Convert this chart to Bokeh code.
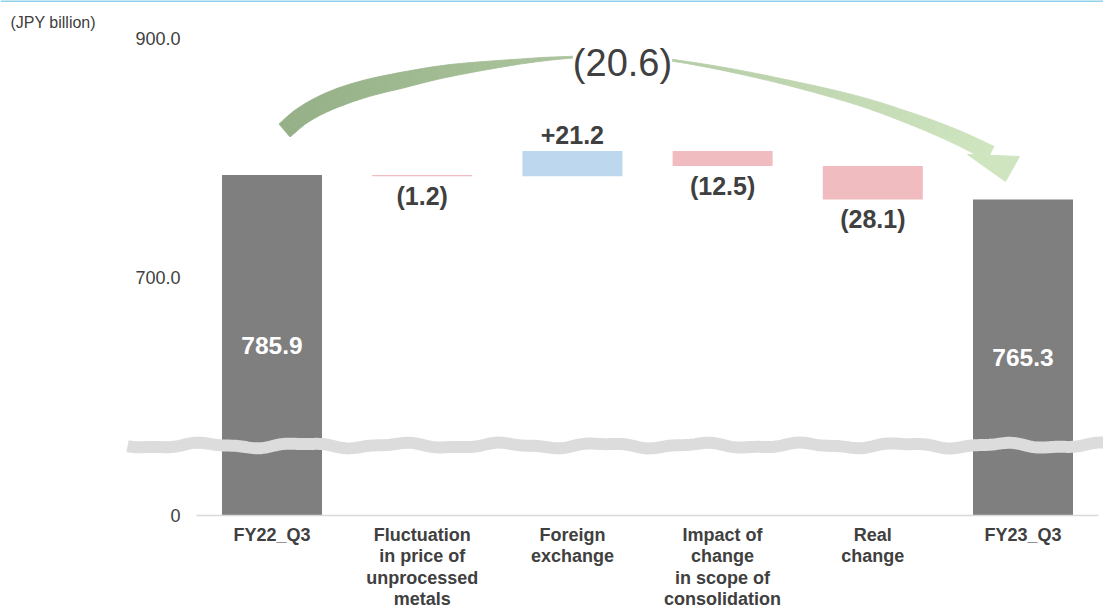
import numpy as np
from bokeh.plotting import figure
from bokeh.models import Range1d, FixedTicker, NumeralTickFormatter, Span, Label
from bokeh.core.properties import value
from bokeh.embed import file_html
from bokeh.resources import INLINE

# ---------------- data ----------------
categories = ["FY22_Q3", "Fluctuation\nin price of\nunprocessed\nmetals", "Foreign\nexchange",
              "Impact of\nchange\nin scope of\nconsolidation", "Real\nchange", "FY23_Q3"]
amounts = [785.9, -1.2, 21.2, -12.5, -28.1, 765.3]
kinds = ["total", "delta", "delta", "delta", "delta", "total"]
value_labels = ["785.9", "(1.2)", "+21.2", "(12.5)", "(28.1)", "765.3"]
total_change_label = "(20.6)"
y_ticks = [0, 700, 900]
y_tick_labels = ["0", "700.0", "900.0"]
unit_label = "(JPY billion)"

# ---------------- layout constants ----------------
FONT = value("Liberation Sans")
TXT = "#404040"
W, H = 1103, 612
PX_PER_CAT = 150.2
CAT0_PX = 271.5
X0 = -CAT0_PX / PX_PER_CAT
X1 = X0 + W / PX_PER_CAT
BREAK_ZERO = 500.0          # display position of 0 (axis is broken)
PX_PER_Y = 515 / (932.3 - BREAK_ZERO)
Y1 = 932.3
Y0 = Y1 - H / PX_PER_Y


def disp(v):
    return BREAK_ZERO if v == 0 else v


def dx(px):
    return X0 + px / PX_PER_CAT


def dy(py):
    return Y1 - py / PX_PER_Y


# ---------------- waterfall geometry ----------------
xs = list(range(len(categories)))
bottoms, tops, colors = [], [], []
run = 0.0
for a, k in zip(amounts, kinds):
    if k == "total":
        bottoms.append(disp(0)); tops.append(a); colors.append("#7f7f7f")
        run = a
    else:
        b, t = min(run, run + a), max(run, run + a)
        bottoms.append(b); tops.append(t)
        colors.append("#bdd7ee" if a > 0 else "#f0bcc0")
        run += a

p = figure(frame_width=W, frame_height=H, x_range=Range1d(X0, X1),
           y_range=Range1d(Y0, Y1), output_backend="svg", toolbar_location=None,
           min_border_left=0, min_border_right=0, min_border_top=0, min_border_bottom=0)
p.outline_line_color = None
p.xgrid.visible = False
p.ygrid.visible = False
p.background_fill_color = "white"

p.vbar(x=xs, bottom=bottoms, top=tops, width=100 / PX_PER_CAT, fill_color=colors, line_color=None)

# value labels
for i, (a, k) in enumerate(zip(amounts, kinds)):
    if k == "total":
        p.text(x=[i], y=[(bottoms[i] + tops[i]) / 2], text=[value_labels[i]], text_align="center",
               text_baseline="middle", text_color="white", text_font=FONT,
               text_font_size="24.5px", text_font_style="bold")
    elif a > 0:
        p.text(x=[i], y=[tops[i]], text=[value_labels[i]], text_align="center",
               text_baseline="bottom", y_offset=-7, text_color=TXT, text_font=FONT,
               text_font_size="25px", text_font_style="bold")
    else:
        p.text(x=[i], y=[bottoms[i]], text=[value_labels[i]], text_align="center",
               text_baseline="top", y_offset=6, text_color=TXT, text_font=FONT,
               text_font_size="25px", text_font_style="bold")

# axis break wave (decoration)
wx = np.arange(127, 1104, 2.0)
wy = 445 + 2.2 * np.sin(2 * np.pi * (wx - 127) / 100.0) + 0.8 * np.sin(2 * np.pi * (wx - 127) / 43.0 + 1.0)
p.line(dx(wx), dy(wy), line_color="#dcdcdc", line_width=12, line_cap="butt")

# curved arrow (decoration)
ctrl = np.array([(284, 130), (302, 115), (328, 101), (362, 89), (400, 80), (450, 70), (520, 61),
                 (567, 57), (622, 55), (680, 61), (760, 76), (850, 98), (910, 118), (955, 136),
                 (990, 153)], float)


def catmull(P, n=14):
    Q = np.vstack([2 * P[0] - P[1], P, 2 * P[-1] - P[-2]])
    out = []
    for i in range(1, len(Q) - 2):
        p0, p1, p2, p3 = Q[i - 1], Q[i], Q[i + 1], Q[i + 2]
        for t in np.linspace(0, 1, n, endpoint=False):
            out.append(0.5 * (2 * p1 + (-p0 + p2) * t + (2 * p0 - 5 * p1 + 4 * p2 - p3) * t * t
                              + (-p0 + 3 * p1 - 3 * p2 + p3) * t ** 3))
    out.append(Q[-2])
    return np.array(out)


c = catmull(ctrl)
tg = np.gradient(c, axis=0)
tg /= np.linalg.norm(tg, axis=1)[:, None]
nrm = np.stack([tg[:, 1], -tg[:, 0]], axis=1)
thick = np.interp(c[:, 0], [284, 340, 400, 450, 520, 567, 680, 780, 880, 990],
                  [17, 18, 16, 12, 5, 2, 2, 5, 10, 16])
up = c + nrm * thick[:, None] / 2
lo = c - nrm * thick[:, None] / 2
cl = np.array([148, 175, 134], float)
cr = np.array([207, 229, 192], float)
pxs, pys, pcs = [], [], []
for k in range(len(c) - 1):
    qx = [up[k, 0], up[k + 1, 0], lo[k + 1, 0], lo[k, 0]]
    qy = [up[k, 1], up[k + 1, 1], lo[k + 1, 1], lo[k, 1]]
    f = np.clip((c[k, 0] - 284) / (990 - 284), 0, 1)
    col = cl + (cr - cl) * f
    pxs.append(list(dx(np.array(qx)))); pys.append(list(dy(np.array(qy))))
    pcs.append("#%02x%02x%02x" % tuple(int(round(v)) for v in col))
p.patches(pxs, pys, fill_color=pcs, line_color=pcs, line_width=0.8)
head = np.array([(967, 154), (1019, 156), (1005, 181)], float)
p.patch(dx(head[:, 0]), dy(head[:, 1]), fill_color="#cfe5c0", line_color="#cfe5c0")

p.add_layout(Label(x=dx(622), y=dy(62), text=total_change_label, text_align="center",
                   text_baseline="middle", text_color=TXT, text_font="Liberation Sans",
                   text_font_size="38px", background_fill_color="white"))

p.text(x=[dx(10)], y=[dy(22)], text=[unit_label], text_align="left", text_baseline="middle",
       text_color=TXT, text_font=FONT, text_font_size="16px")

p.add_layout(Span(location=Y1, dimension="width", line_color="#8fd0ea", line_width=3))

# x axis (placed at the broken-axis zero)
xa = p.xaxis[0]
xa.fixed_location = disp(0)
xa.ticker = FixedTicker(ticks=xs)
xa.major_label_overrides = {i: lab for i, lab in enumerate(categories)}
xa.bounds = (-0.5, 5.5)
xa.axis_line_color = "#d9d9d9"
xa.axis_line_width = 1.5
xa.major_tick_line_color = None
xa.minor_tick_line_color = None
xa.major_tick_in = 0
xa.major_tick_out = 0
xa.major_label_standoff = 9
xa.major_label_text_font = "Liberation Sans"
xa.major_label_text_font_size = "18px"
xa.major_label_text_font_style = "bold"
xa.major_label_text_line_height = 1.08
xa.major_label_text_color = TXT

# y axis
ya = p.yaxis[0]
ya.ticker = FixedTicker(ticks=[disp(v) for v in y_ticks])
ya.formatter = NumeralTickFormatter(format="0.0")
ya.major_label_overrides = {disp(v): lab for v, lab in zip(y_ticks, y_tick_labels)}
ya.fixed_location = dx(187)
ya.axis_line_color = None
ya.major_tick_line_color = None
ya.minor_tick_line_color = None
ya.major_tick_in = 0
ya.major_tick_out = 0
ya.major_label_standoff = 7
ya.major_label_text_font = "Liberation Sans"
ya.major_label_text_font_size = "18px"
ya.major_label_text_color = TXT

open("out.html", "w").write(file_html(p, INLINE))
